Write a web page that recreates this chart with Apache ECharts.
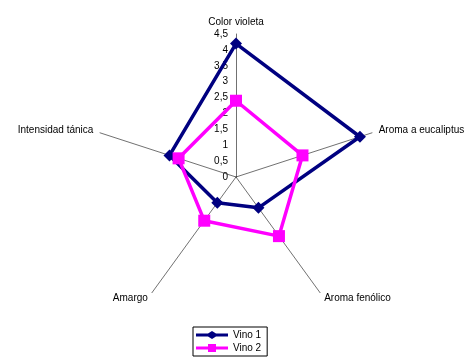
<!DOCTYPE html>
<html><head><meta charset="utf-8">
<script src="https://cdn.jsdelivr.net/npm/echarts@6/dist/echarts.min.js"></script>
<style>html,body{margin:0;padding:0;background:#fff}#c{width:469px;height:358px}</style>
</head><body><div id="c"></div>
<script>
// Indicators listed clockwise starting at top
var categories = ['Color violeta', 'Aroma a eucaliptus', 'Aroma fenólico', 'Amargo', 'Intensidad tánica'];
var vino1 = [4.2, 4.1, 1.2, 1.0, 2.2];
var vino2 = [2.4, 2.2, 2.3, 1.7, 1.9];
var seriesNames = ['Vino 1', 'Vino 2'];
var axisMax = 4.5;
var tickStep = 0.5;

// ECharts radar goes counter-clockwise: reorder (keep first, reverse rest)
function ccw(arr){ return [arr[0]].concat(arr.slice(1).reverse()); }

var chart = echarts.init(document.getElementById('c'));
var font = 'Liberation Sans, Arial, sans-serif';
chart.setOption({
  animation: false,
  backgroundColor: '#fff',
  textStyle: {fontFamily: font},
  radar: {
    center: [236, 177],
    radius: 143,
    startAngle: 90,
    splitNumber: 9,
    shape: 'polygon',
    indicator: ccw(categories).map(function(n){ return {name: n, min: 0, max: axisMax}; }),
    axisName: {color: '#000', fontSize: 10, fontFamily: font},
    nameGap: 7,
    axisLine: {lineStyle: {color: '#333', width: 0.7}},
    splitLine: {show: false},
    splitArea: {show: false},
    axisTick: {show: false},
    axisLabel: {show: false}
  },
  polar: {center: [236, 177], radius: 143},
  angleAxis: {show: false, startAngle: 90, type: 'value', min: 0, max: 360},
  radiusAxis: {
    type: 'value', min: 0, max: axisMax, interval: tickStep,
    axisLine: {show: false}, axisTick: {show: false}, splitLine: {show: false},
    axisLabel: {color: '#000', fontSize: 10, fontFamily: font, margin: 8,
      formatter: function(v){ return String(v).replace('.', ','); }}
  },
  legend: {
    orient: 'vertical', left: 193, top: 327,
    borderColor: '#000', borderWidth: 1, padding: [3, 6, 3, 3],
    itemGap: 3, itemWidth: 32, itemHeight: 8,
    textStyle: {fontSize: 10, color: '#000', fontFamily: font},
    data: [
      {name: seriesNames[0], icon: 'path://M0,2.5H12L16,0L20,2.5H32V5.5H20L16,8L12,5.5H0Z'},
      {name: seriesNames[1], icon: 'path://M0,2.5H12V0H20V2.5H32V5.5H20V8H12V5.5H0Z'}
    ]
  },
  series: [{
    type: 'radar',
    data: [
      {name: seriesNames[0], value: ccw(vino1), symbol: 'diamond', symbolSize: 12,
        lineStyle: {color: '#000080', width: 3.5}, itemStyle: {color: '#000080'}},
      {name: seriesNames[1], value: ccw(vino2), symbol: 'rect', symbolSize: 12,
        lineStyle: {color: '#FF00FF', width: 3.5}, itemStyle: {color: '#FF00FF'}}
    ]
  }]
});
</script></body></html>
